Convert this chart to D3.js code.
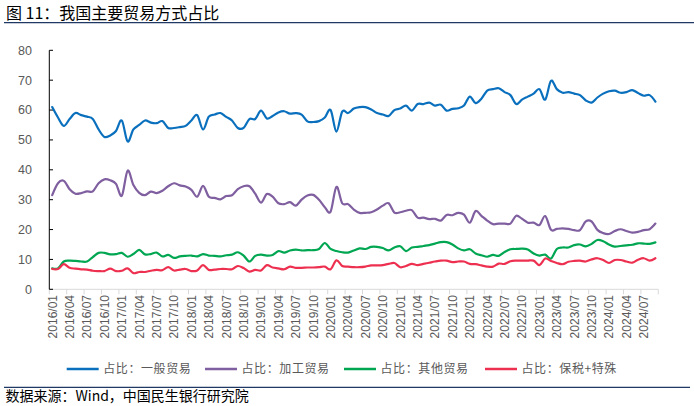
<!DOCTYPE html>
<html><head><meta charset="utf-8">
<script src="https://cdn.jsdelivr.net/npm/d3@7"></script>
<style>
html,body{margin:0;padding:0;background:#fff;}
svg{display:block;}
</style></head>
<body>
<svg id="c" width="694" height="406"></svg>
<script>
const title = "图 11：我国主要贸易方式占比";
const source = "数据来源：Wind，中国民生银行研究院";
const seriesNames = ["占比：一般贸易","占比：加工贸易","占比：其他贸易","占比：保税+特殊"];
const colors = ["#0A70BE","#7F5F9F","#00A651","#EE3050"];
const yTicks = [0,10,20,30,40,50,60,70,80];

// months 2016/01 .. 2024/09
const months = [];
for (let y = 2016; y <= 2024; y++) for (let m = 1; m <= 12; m++) {
  if (y === 2024 && m > 9) break;
  months.push(y + "/" + String(m).padStart(2, "0"));
}

const general = [61,57.5,54.7,57,59,58.3,57.8,57,53.5,51,51.5,53,56.5,49.5,53.5,55,56.5,55.8,55.6,56.3,54,54,54.3,54.7,56.5,58.3,53.5,57.8,58.5,59,57.7,56.5,54,54,57,57,59.8,57.2,58,59.2,59.6,58.8,59,58.5,56.2,56,56.3,57.5,60,52.8,59.5,59,60.5,61,61,60.2,59,58.5,58,60,60.5,61.5,59.8,62,62,62.5,61.5,61.8,59.8,60.4,60.6,61.5,64.5,62.3,63.8,66.5,67,67.3,66,65,62,63.5,64.5,65.5,67,63.5,69.8,67,65.8,66,65.5,65,63.2,62.5,64.2,65.5,66.3,66.5,65.8,66,66.7,65.7,64.8,65,62.8];
const processing = [31.5,35.5,36.3,33.5,32,32.2,32.8,32.8,35.5,36.8,36.5,35.3,31.3,39.7,34.9,32.3,31.5,32.7,32.2,33,34.5,35.5,34.8,34.4,33.3,31,34.6,31,30.6,30.1,31.2,31.5,33.5,34.5,34.5,32,29,31.9,31,28.8,28.5,29.2,28,30,31.4,31.6,30,27.5,26,34.3,28.8,28.5,26.7,25.6,25.6,25.8,26.7,28,28.8,25.7,25.8,26.3,26.5,24,24,23.5,23.6,23,24.9,24.8,25.6,25,22.3,26.2,24.6,23,21.8,22,22,22,24.6,23.6,22.3,22.3,21.5,24.5,19.9,20.2,20.4,20.2,19.8,19.8,22.7,22.7,19.9,18.8,18.5,19.5,20.1,19.5,19,19.2,19.8,20.1,22];
const other = [7,7,9.3,9.6,9.5,9.3,9.3,10.8,12.2,12.2,11.7,11.8,12.2,10.9,11.8,13.2,11.7,11.8,12.3,11,11.5,10.5,11,11.2,11.3,11,11.8,11.3,11.2,11,11.4,11.6,12.4,11.3,9.3,11.2,11.6,11.3,11.5,12.8,12.3,13,13.3,13,13.1,13.1,13.5,15.5,13.5,12.8,12.4,12.3,13,13.7,13.5,14.2,14.2,13.8,13,14,14.4,12.8,14,14.2,14.5,14.8,15.3,15.8,15.8,15,13.7,13,13.4,12,11.4,10.9,11.5,11.2,12.5,13.4,13.5,13.6,13.3,12,11.3,11.6,10.3,13.5,14,14,14.8,15,14.4,15.2,16.5,16.1,15,14.3,14.5,14.7,14.9,15.4,15.3,15.2,15.7];
const bonded = [6.8,6.8,8.4,7.2,6.9,6.7,6.6,6.2,6.1,6.1,6.9,6.1,6.2,7,5.4,5.8,5.8,6.2,6.5,6.4,7.4,6.3,6.6,6.8,6.1,6.3,8.1,6.5,6.6,6.8,6.8,6.7,7.8,7.1,5.9,6.5,6.3,8.1,7.3,7,6.7,7.6,7.2,7.2,7.3,7.3,7.4,7.6,6.7,9.7,7.8,7.6,7.4,7.4,7.6,8,8,8.1,8.5,8.8,7.4,7.8,8.5,8.1,8.5,8.9,9.3,9.6,9.6,9.1,9.3,9.3,8.5,8.4,8,7.6,7.6,8.6,8.5,9.4,9.6,9.6,9.6,9.6,8.1,10.3,9.5,8.8,8.4,9.2,9.5,9.6,9.3,10,10.4,9.8,8.8,9.8,9.8,9.3,8.9,9.9,10.4,9.6,10.4];

const series = [general, processing, other, bonded];
const tickLabels = months.filter((d, i) => i % 3 === 0);

const svg = d3.select("#c");
const cjk = "'Noto Sans CJK SC','Noto Sans',sans-serif";
const lat = "'Liberation Sans',Arial,sans-serif";

// title
svg.append("text").attr("x", 6).attr("y", 18.5)
  .attr("font-family", cjk).attr("font-size", 16).attr("fill", "#000").text(title);
svg.append("line").attr("x1", 4).attr("x2", 694).attr("y1", 22.6).attr("y2", 22.6)
  .attr("stroke", "#1F3864").attr("stroke-width", 1.3);

const x = d3.scaleBand().domain(months).range([49.3, 658.3]).padding(0);
const y = d3.scaleLinear().domain([0, 80]).range([289.3, 50.3]);
const cx = d => x(d) + x.bandwidth() / 2;

// x axis
const gx = svg.append("g").attr("transform", "translate(0,289.3)");
gx.append("line").attr("x1", 49.3).attr("x2", 658.3).attr("stroke", "#D9D9D9").attr("stroke-width", 1);
const tickPos = months.filter((d, i) => i % 3 === 0).map(d => x(d)).concat([658.3]);
gx.selectAll("line.t").data(tickPos).join("line").attr("class", "t")
  .attr("x1", d => d).attr("x2", d => d).attr("y1", 0).attr("y2", 5)
  .attr("stroke", "#D9D9D9").attr("stroke-width", 1);
svg.append("g").selectAll("text").data(tickLabels).join("text")
  .attr("transform", d => `translate(${cx(d)},295) rotate(-90)`)
  .attr("text-anchor", "end").attr("dy", "0.36em")
  .attr("font-family", lat).attr("font-size", 12).attr("fill", "#595959")
  .text(d => d);

// y axis
const gy = svg.append("g");
gy.append("line").attr("x1", 49.3).attr("x2", 49.3).attr("y1", y(80)).attr("y2", y(0))
  .attr("stroke", "#000").attr("stroke-width", 1);
gy.selectAll("line.t").data(yTicks).join("line").attr("class", "t")
  .attr("x1", 49.3).attr("x2", 53).attr("y1", d => y(d)).attr("y2", d => y(d))
  .attr("stroke", "#000").attr("stroke-width", 1);
gy.selectAll("text").data(yTicks).join("text")
  .attr("x", 32).attr("y", d => y(d)).attr("dy", "0.35em").attr("text-anchor", "end")
  .attr("font-family", lat).attr("font-size", 12.5).attr("fill", "#595959")
  .text(d => d);

// lines
const line = d3.line().x((d, i) => cx(months[i])).y(d => y(d)).curve(d3.curveCardinal.tension(0));
svg.append("g").selectAll("path").data(series).join("path")
  .attr("d", d => line(d)).attr("fill", "none")
  .attr("stroke", (d, i) => colors[i]).attr("stroke-width", 2.2)
  .attr("stroke-linejoin", "round").attr("stroke-linecap", "round");

// legend
const legX = [66.7, 205, 344, 485];
const lg = svg.append("g").selectAll("g").data(seriesNames).join("g")
  .attr("transform", (d, i) => `translate(${legX[i]},369)`);
lg.append("line").attr("x1", 0).attr("x2", 32).attr("stroke", (d, i) => colors[i]).attr("stroke-width", 2.5);
lg.append("text").attr("x", 36.5).attr("dy", "0.36em")
  .attr("font-family", cjk).attr("font-size", 12).attr("letter-spacing", 0.6)
  .attr("fill", "#595959").text(d => d);

// bottom rule & source
svg.append("line").attr("x1", 4).attr("x2", 690).attr("y1", 387.3).attr("y2", 387.3)
  .attr("stroke", "#1F3864").attr("stroke-width", 1.3);
svg.append("text").attr("x", 5.5).attr("y", 401)
  .attr("font-family", cjk).attr("font-size", 14).attr("fill", "#000").text(source);
</script>
</body></html>
